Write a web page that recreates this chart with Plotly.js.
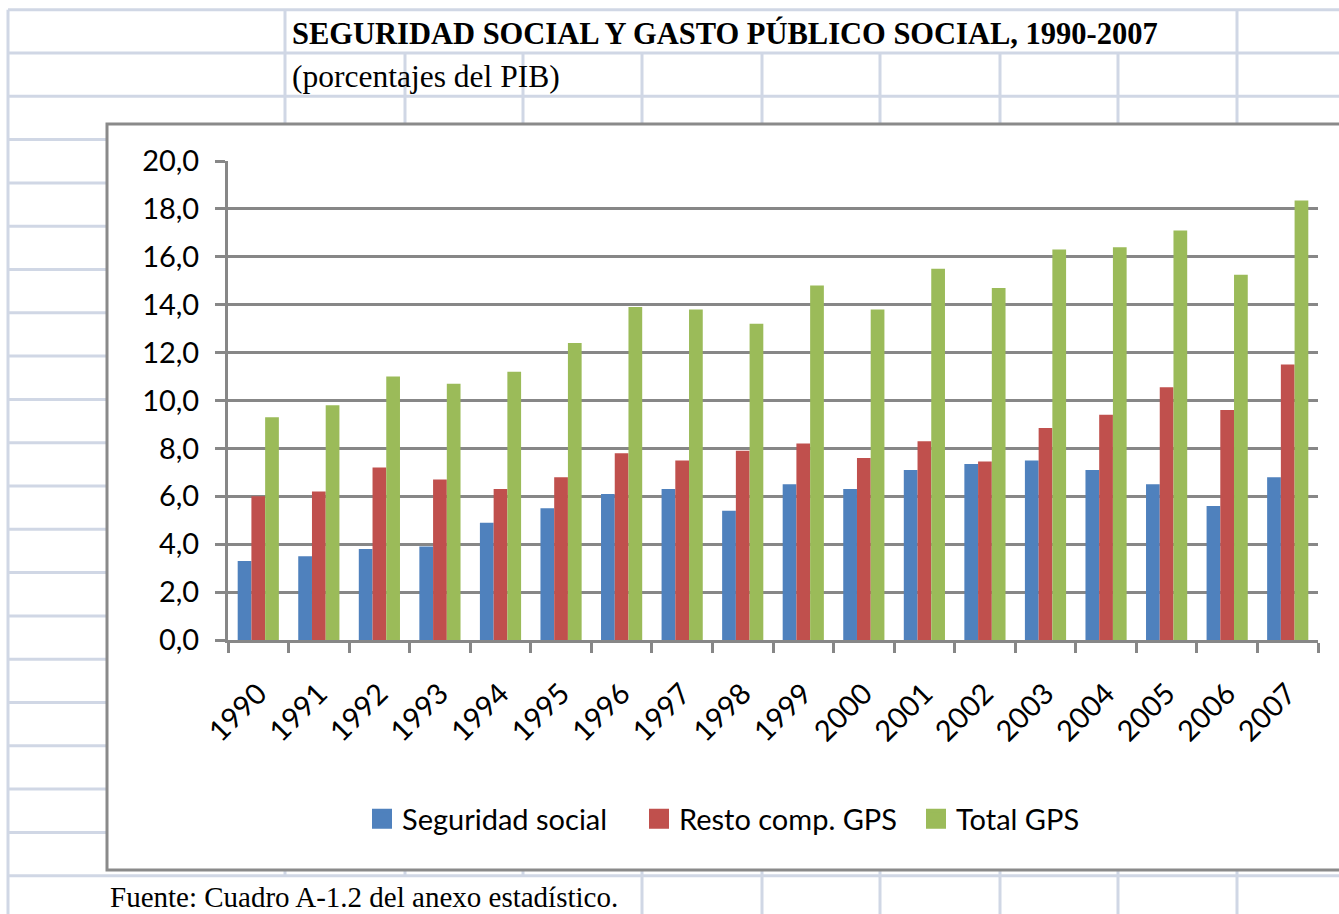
<!DOCTYPE html>
<html>
<head>
<meta charset="utf-8">
<script src="https://cdn.plot.ly/plotly-3.0.1.min.js"></script>
<style>
html,body{margin:0;padding:0;background:#fff;}
#chart{width:1339px;height:914px;}
</style>
</head>
<body>
<div id="chart"></div>
<script>
// ---- data ----
const years = ['1990','1991','1992','1993','1994','1995','1996','1997','1998','1999','2000','2001','2002','2003','2004','2005','2006','2007'];
const seguridadSocial = [3.3,3.5,3.8,3.9,4.9,5.5,6.1,6.3,5.4,6.5,6.3,7.1,7.35,7.5,7.1,6.5,5.6,6.8];
const restoCompGPS   = [6.0,6.2,7.2,6.7,6.3,6.8,7.8,7.5,7.9,8.2,7.6,8.3,7.45,8.85,9.4,10.55,9.6,11.5];
const totalGPS       = [9.3,9.8,11.0,10.7,11.2,12.4,13.9,13.8,13.2,14.8,13.8,15.5,14.7,16.3,16.4,17.1,15.25,18.35];
const seriesNames = ['Seguridad social','Resto comp. GPS','Total GPS'];
const seriesColors = ['#4f81bd','#c0504d','#9bbb59'];
const yTicks = [0,2,4,6,8,10,12,14,16,18,20];
const titleText = 'SEGURIDAD SOCIAL Y GASTO PÚBLICO SOCIAL, 1990-2007';
const subtitleText = '(porcentajes del PIB)';
const sourceText = 'Fuente: Cuadro A-1.2 del anexo estadístico.';

// ---- geometry helpers (page pixels -> paper fractions) ----
const W = 1339, H = 914;
const L = 228, R = 1318, T = 161, B = 640;
const px = x => (x - L) / (R - L);
const py = y => (B - y) / (B - T);

const sheetLine = {color:'#d0d7e5', width:3};
const shapes = [];
// spreadsheet row lines
for (let k = 0; k <= 20; k++) {
  const y = 9.7 + 43.3 * k;
  shapes.push({type:'line', xref:'paper', yref:'paper', layer:'below',
    x0:px(8), x1:px(1345), y0:py(y), y1:py(y), line:sheetLine});
}
// spreadsheet column lines [x, yStart, yEnd]
const cols = [[8,9.7,914],[285,9.7,876],[405,53,876],[523,53,876],[642,53,914],[762,53,914],
              [880,53,914],[1000,53,914],[1118,53,914],[1237,9.7,914]];
cols.forEach(c => shapes.push({type:'line', xref:'paper', yref:'paper', layer:'below',
  x0:px(c[0]), x1:px(c[0]), y0:py(c[1]), y1:py(c[2]), line:sheetLine}));
// chart box
shapes.push({type:'rect', xref:'paper', yref:'paper', layer:'below',
  x0:px(107), x1:px(1360), y0:py(870), y1:py(124),
  fillcolor:'#ffffff', line:{color:'#8a8a8a', width:3}});

const values = [seguridadSocial, restoCompGPS, totalGPS];
const traces = values.map((v,i) => ({
  type:'bar', x:years, y:v, name:seriesNames[i], showlegend:false,
  marker:{color:seriesColors[i], line:{width:0}}
}));
// legend proxies (larger square swatches)
seriesNames.forEach((n,i) => traces.push({
  type:'scatter', mode:'markers', x:[null], y:[null], name:n, showlegend:true,
  marker:{symbol:'square', size:16, color:seriesColors[i], line:{color:seriesColors[i], width:4}}
}));

const axisGray = '#878787';
const tickFont = {family:'Lato, sans-serif', size:29, color:'#000'};
const layout = {
  width:W, height:H,
  margin:{l:L, r:W-R, t:T, b:H-B, pad:0},
  paper_bgcolor:'#ffffff', plot_bgcolor:'rgba(0,0,0,0)',
  separators:',.',
  barmode:'group', bargap:0.32, bargroupgap:0,
  font:{family:'Lato, sans-serif', size:29, color:'#000'},
  title:{text:titleText, xref:'container', yref:'container', x:292/W, xanchor:'left',
         y:1-33/H, yanchor:'middle',
         font:{family:'Liberation Serif, serif', size:30.5, weight:'bold', color:'#000'}},
  xaxis:{type:'category', showgrid:false, zeroline:false,
         showline:true, linecolor:axisGray, linewidth:3,
         ticks:'outside', tickson:'boundaries', ticklen:10, tickwidth:3, tickcolor:axisGray,
         tickangle:-45, ticklabelstandoff:22,
         tickfont:tickFont},
  yaxis:{range:[0,20], tickvals:yTicks, tickformat:'.1f',
         showgrid:true, gridcolor:axisGray, gridwidth:3, zeroline:false,
         showline:true, linecolor:axisGray, linewidth:3,
         ticks:'outside', ticklen:10, tickwidth:3, tickcolor:axisGray,
         ticklabelstandoff:10,
         tickfont:tickFont},
  legend:{orientation:'h', x:px(362), xanchor:'left', y:py(819), yanchor:'middle',
          bgcolor:'rgba(0,0,0,0)', borderwidth:0,
          entrywidth:232, entrywidthmode:'pixels',
          font:{family:'Lato, sans-serif', size:29, color:'#000'}},
  annotations:[
    {text:subtitleText, xref:'paper', yref:'paper', x:px(290), y:py(76), xanchor:'left', yanchor:'middle',
     showarrow:false, font:{family:'Liberation Serif, serif', size:31.5, color:'#000'}},
    {text:sourceText, xref:'paper', yref:'paper', x:px(108), y:py(897), xanchor:'left', yanchor:'middle',
     showarrow:false, font:{family:'Liberation Serif, serif', size:29, color:'#000'}}
  ],
  shapes:shapes
};

Plotly.newPlot('chart', traces, layout, {displayModeBar:false, staticPlot:true});
</script>
</body>
</html>
